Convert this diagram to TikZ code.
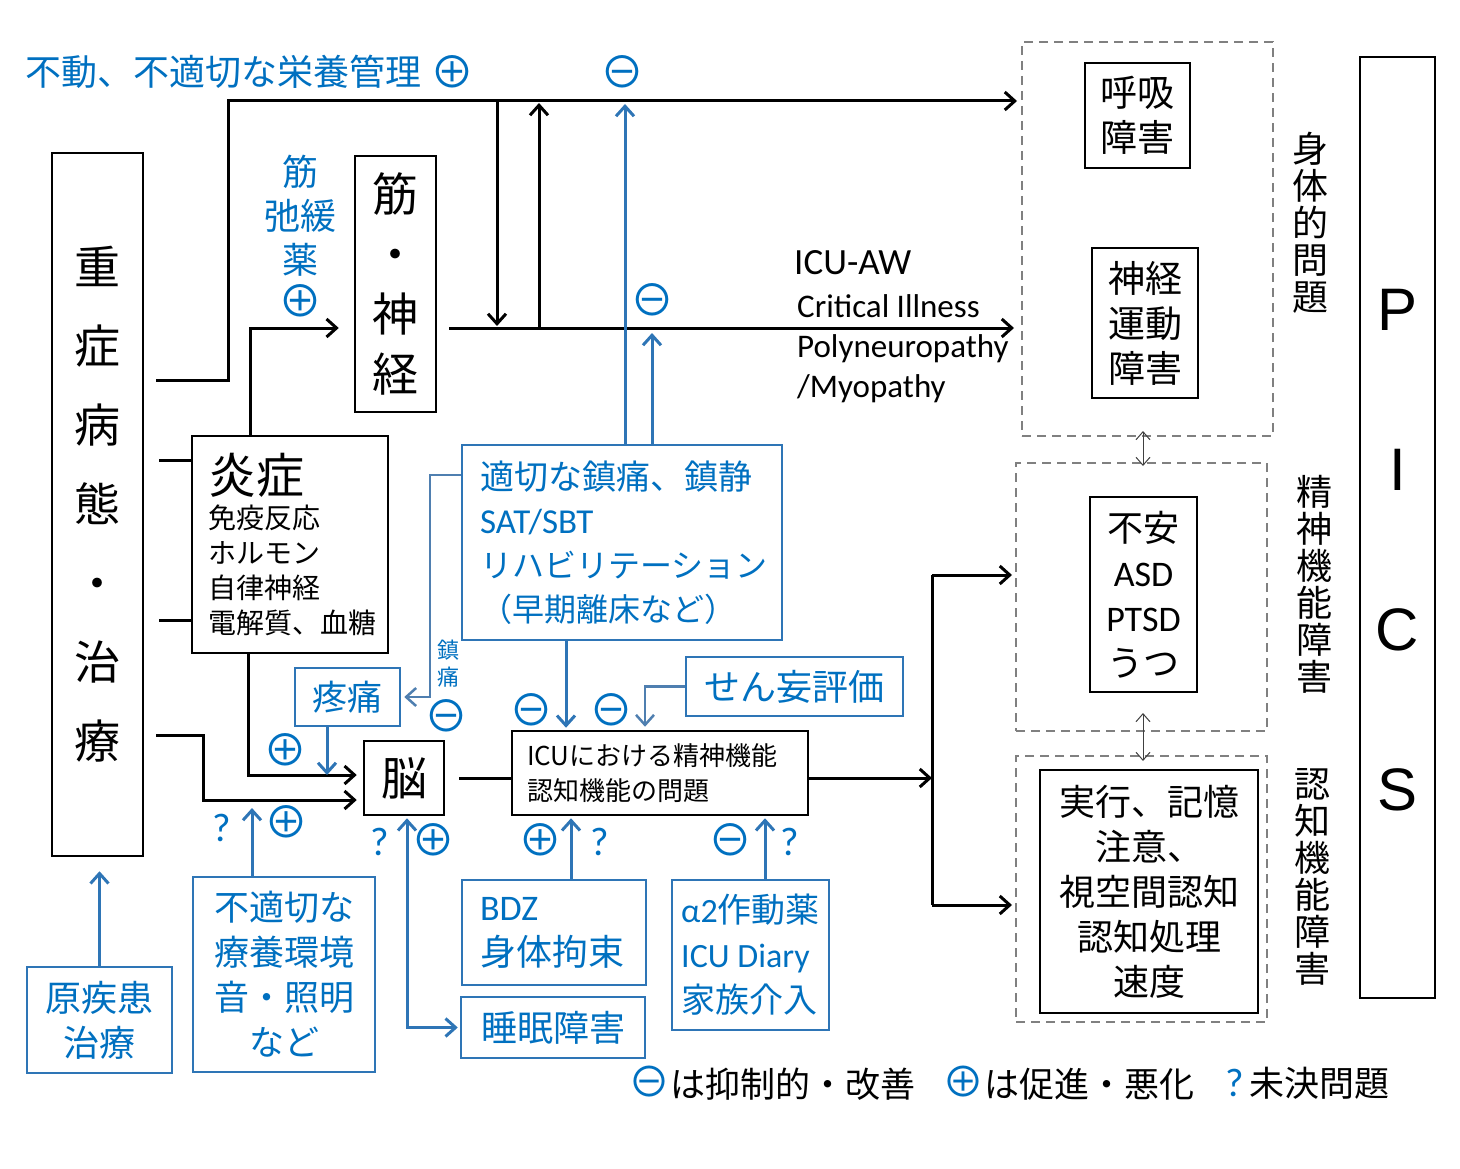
\documentclass[tikz,border=0pt]{standalone}
\usepackage{fontspec}
\setmainfont{Noto Sans CJK JP}
\newfontfamily\latinfont{Carlito}
\newfontfamily\symfont{Noto Sans CJK JP}
\newfontfamily\picsfont{Liberation Sans}
\usetikzlibrary{arrows.meta, positioning}
\definecolor{textblue}{HTML}{0070C0}
\definecolor{boxblue}{HTML}{2E75B6}
\definecolor{steelblue}{HTML}{4F7FB0}
\definecolor{dashgray}{HTML}{808080}

\begin{document}
\begin{tikzpicture}[x=1pt, y=-1pt,
    % Node styles
    box/.style={
        draw, line width=2.5pt, inner sep=0pt, align=center,
      },
    blue box/.style={
        box, draw=boxblue, text=textblue,
      },
    group box/.style={
        draw=dashgray, line width=2pt, dash pattern=on 9pt off 6pt, inner sep=0pt,
      },
    sym/.style={font=\symfont\fontsize{44}{44}\selectfont, text=textblue, inner sep=0pt},
    qmark/.style={font=\latinfont\fontsize{40}{40}\selectfont, text=textblue, inner sep=0pt},
    vlabel/.style={align=center, inner sep=0pt, font=\fontsize{36}{37}\selectfont},
    % Edge/arrow styles
    link/.style={draw, line width=3pt},
    arr/.style={link, -{Straight Barb[length=10pt, width=18pt]}},
    blue arr/.style={arr, draw=boxblue},
    blue darr/.style={link, draw=boxblue, {Straight Barb[length=10pt, width=18pt]}-{Straight Barb[length=10pt, width=18pt]}},
    steel arr/.style={draw=steelblue, line width=2.5pt, -{Straight Barb[length=10pt, width=18pt]}},
    thin arr/.style={draw=black!75, line width=1pt, {Straight Barb[length=8pt, width=14pt]}-{Straight Barb[length=8pt, width=14pt]}},
  ]
  \useasboundingbox (0,0) rectangle (1460,1169);

  % --- left column ---
  \node[box, minimum width=91pt, minimum height=703pt, font=\fontsize{46}{79}\selectfont] (sick) at (97.5,504.5) {重\\症\\病\\態\\・\\治\\療};
  \node[box, minimum width=81pt, minimum height=256pt, font=\fontsize{46}{60}\selectfont] (kin) at (395.5,284) {筋\\・\\神\\経};
  \node[box, minimum width=196pt, minimum height=217pt, inner xsep=16pt, text width=164pt, align=left, font=\fontsize{28}{35}\selectfont] (ens) at (290,544.5)
    {{\fontsize{48}{50}\selectfont 炎症}\\免疫反応\\ホルモン\\自律神経\\電解質、血糖};
  \node[box, minimum width=80pt, minimum height=74pt, font=\fontsize{46}{46}\selectfont] (nou) at (404,778) {脳};
  \node[box, minimum width=296pt, minimum height=84pt, inner xsep=15pt, text width=266pt, align=left, font=\fontsize{26}{35}\selectfont] (icu) at (660,773)
    {ICUにおける精神機能\\認知機能の問題};

  % --- blue boxes ---
  \node[blue box, minimum width=320pt, minimum height=195pt, inner xsep=18pt, text width=284pt, align=left, font=\fontsize{32}{44}\selectfont] (tekisetsu) at (622,542.5)
    {{\fontsize{34}{44}\selectfont 適切な鎮痛、鎮静}\\{\latinfont\fontsize{35}{44}\selectfont SAT/SBT}\\リハビリテーション\\（早期離床など）};
  \node[blue box, minimum width=105pt, minimum height=58pt, font=\fontsize{35}{35}\selectfont] (totsu) at (347.5,697) {疼痛};
  \node[blue box, minimum width=217pt, minimum height=59pt, font=\fontsize{36}{36}\selectfont] (senmou) at (794.5,686.5) {せん妄評価};
  \node[blue box, minimum width=182pt, minimum height=195pt, font=\fontsize{35}{45}\selectfont] (futeki) at (284,974.5) {不適切な\\療養環境\\音・照明\\など};
  \node[blue box, minimum width=145pt, minimum height=106pt, font=\fontsize{36}{45}\selectfont] (genshikkan) at (99.5,1020) {原疾患\\治療};
  \node[blue box, minimum width=184pt, minimum height=105pt, inner xsep=18pt, text width=148pt, align=left, font=\fontsize{36}{45}\selectfont] (bdz) at (554,932.5)
    {{\latinfont BDZ}\\身体拘束};
  \node[blue box, minimum width=184pt, minimum height=61pt, font=\fontsize{36}{36}\selectfont] (suimin) at (553,1027.5) {睡眠障害};
  \node[blue box, minimum width=157pt, minimum height=150pt, align=left, font=\fontsize{34}{45}\selectfont] (alpha) at (750.5,955)
    {{\latinfont α2}作動薬\\{\latinfont ICU Diary}\\家族介入};

  % --- PICS side ---
  \node[group box, minimum width=251pt, minimum height=394pt] (body) at (1147.5,239) {};
  \node[group box, minimum width=251pt, minimum height=268pt] (mind) at (1141.5,597) {};
  \node[group box, minimum width=251pt, minimum height=266pt] (cog) at (1141.5,889) {};
  \node[box, minimum width=105pt, minimum height=105pt, font=\fontsize{37}{45}\selectfont] (kokyu) at (1137.5,115.5) {呼吸\\障害};
  \node[box, minimum width=106pt, minimum height=150pt, font=\fontsize{37}{45}\selectfont] (shinkei) at (1145,323) {神経\\運動\\障害};
  \node[box, minimum width=107pt, minimum height=195pt, font=\fontsize{36}{45}\selectfont] (fuan) at (1143.5,594.5)
    {不安\\{\latinfont ASD}\\{\latinfont PTSD}\\うつ};
  \node[box, minimum width=218pt, minimum height=243pt, font=\fontsize{36}{45}\selectfont] (jikko) at (1149,891.5)
    {実行、記憶\\注意、\\視空間認知\\認知処理\\速度};
  \node[box, minimum width=75pt, minimum height=941pt] (pics) at (1397.5,527.5) {};
  \node[align=center, inner sep=0pt, font=\picsfont\fontsize{60}{160}\selectfont] (picsT) at (1397.5,550) {P\\I\\C\\S};
  \node[vlabel] (bodyL) at (1310,223) {身\\体\\的\\問\\題};
  \node[vlabel] (mindL) at (1314,584) {精\\神\\機\\能\\障\\害};
  \node[vlabel] (cogL) at (1312,877) {認\\知\\機\\能\\障\\害};

  % --- free texts ---
  \node[anchor=west, inner sep=0pt, text=textblue, font=\fontsize{36}{36}\selectfont] (title) at (25,72) {不動、不適切な栄養管理};
  \node[align=center, inner sep=0pt, text=textblue, font=\fontsize{36}{44}\selectfont] (kinshi) at (300,236) {筋\\弛緩\\薬\\{\symfont\fontsize{44}{44}\selectfont ⊕}};
  \node[anchor=west, inner sep=0pt, font=\latinfont\fontsize{37}{37}\selectfont] (icuaw) at (794,263) {ICU-AW};
  \node[anchor=west, align=left, inner sep=0pt, font=\latinfont\fontsize{33}{40}\selectfont] (cip) at (797,349) {Critical Illness\\Polyneuropathy\\/Myopathy};
  \node[align=center, inner sep=0pt, text=textblue, font=\fontsize{22}{27}\selectfont] (chintsu) at (448,664) {鎮\\痛};

  % plus / minus / question marks
  \foreach \x/\y/\n in {452/72/1, 285/750/2, 286/822/3, 433/840/4, 540/840/5}
    \node[sym] (plus\n) at (\x,\y) {⊕};
  \foreach \x/\y/\n in {622/72/1, 652/300/2, 446/716/3, 531/710/4, 611/710/5, 730/840/6}
    \node[sym] (minus\n) at (\x,\y) {⊖};
  \foreach \x/\y/\n in {222/828/1, 380/842/2, 600/842/3, 790/842/4}
    \node[qmark] (q\n) at (\x,\y) {?};

  % --- legend ---
  \node[anchor=west, inner sep=0pt, font=\fontsize{35}{35}\selectfont] (legMinus) at (628,1083) {{\symfont\fontsize{42}{42}\selectfont\color{textblue}⊖}は抑制的・改善};
  \node[anchor=west, inner sep=0pt, font=\fontsize{35}{35}\selectfont] (legPlus) at (942,1083) {{\symfont\fontsize{42}{42}\selectfont\color{textblue}⊕}は促進・悪化};
  \node[anchor=west, inner sep=0pt, font=\fontsize{35}{35}\selectfont] (legQ) at (1225,1083) {{\latinfont\fontsize{40}{40}\selectfont\color{textblue}?}\,未決問題};

  % --- black flows ---
  \coordinate (dn1) at (497,101);
  \coordinate (dn2) at (497,328);
  \coordinate (up1) at (539,328);
  \coordinate (up2) at (539,101);
  \coordinate (splitC) at (932,778);
  \coordinate (splitT) at (932,575);
  \coordinate (splitB) at (932,905);

  \draw[arr, shorten <=12pt, shorten >=4pt] (sick.east |- 0,380) -| (228,101) -- (body.west |- 0,101);
  \draw[arr, shorten >=15pt] (250,0 |- ens.north) |- (kin.west |- 0,328);
  \draw[arr, shorten <=12pt, shorten >=7pt] (kin.east |- 0,328) -- (body.west |- 0,328);
  \draw[arr, shorten >=2pt] (dn1) -- (dn2);
  \draw[arr, shorten >=2pt] (up1) -- (up2);
  \draw[link, shorten <=15pt] (sick.east |- 0,460) -- (ens.west |- 0,460);
  \draw[link, shorten <=15pt] (sick.east |- 0,620) -- (ens.west |- 0,620);
  \draw[arr, shorten >=6pt] (248,0 |- ens.south) |- (nou.west |- 0,775);
  \draw[arr, shorten <=12pt, shorten >=6pt] (sick.east |- 0,735) -| (203,800) -- (nou.west |- 0,800);
  \draw[link, shorten <=14pt] (nou.east |- splitC) -- (icu.west |- splitC);
  \draw[arr] (icu.east |- splitC) -- (splitC);
  \draw[link] (splitT) -- (splitB);
  \draw[arr, shorten >=3pt] (splitT) -- (mind.west |- splitT);
  \draw[arr, shorten >=3pt] (splitB) -- (cog.west |- splitB);

  % --- blue flows ---
  \draw[blue arr, shorten >=3pt] (625,0 |- tekisetsu.north) -- (625,101);
  \draw[blue arr, shorten >=5pt] (652,0 |- tekisetsu.north) -- (652,328);
  \draw[blue arr, shorten >=2pt] (566,0 |- tekisetsu.south) -- (566,0 |- icu.north);
  \draw[steel arr, shorten >=3pt] (tekisetsu.west |- 0,475) -| (430,697) -- (totsu.east);
  \draw[steel arr, shorten >=3pt] (senmou.west) -| (645,0 |- icu.north);
  \draw[blue arr] (327,0 |- totsu.south) -- (327,775);
  \draw[blue arr, shorten >=8pt] (252,0 |- futeki.north) -- (252,800);
  \draw[blue darr, shorten <=2pt, shorten >=2pt] (407,0 |- nou.south) |- (suimin.west);
  \draw[blue arr, shorten >=2pt] (571,0 |- bdz.north) -- (571,0 |- icu.south);
  \draw[blue arr, shorten >=2pt] (765,0 |- alpha.north) -- (765,0 |- icu.south);
  \draw[blue arr, shorten >=14pt] (genshikkan.north) -- (genshikkan.north |- sick.south);

  % --- links between the PICS groups ---
  \draw[thin arr, shorten <=-6pt, shorten >=-4pt] (1143,0 |- body.south) -- (1143,0 |- mind.north);
  \draw[thin arr, shorten <=-19pt, shorten >=-6pt] (1143,0 |- mind.south) -- (1143,0 |- cog.north);
\end{tikzpicture}
\end{document}
